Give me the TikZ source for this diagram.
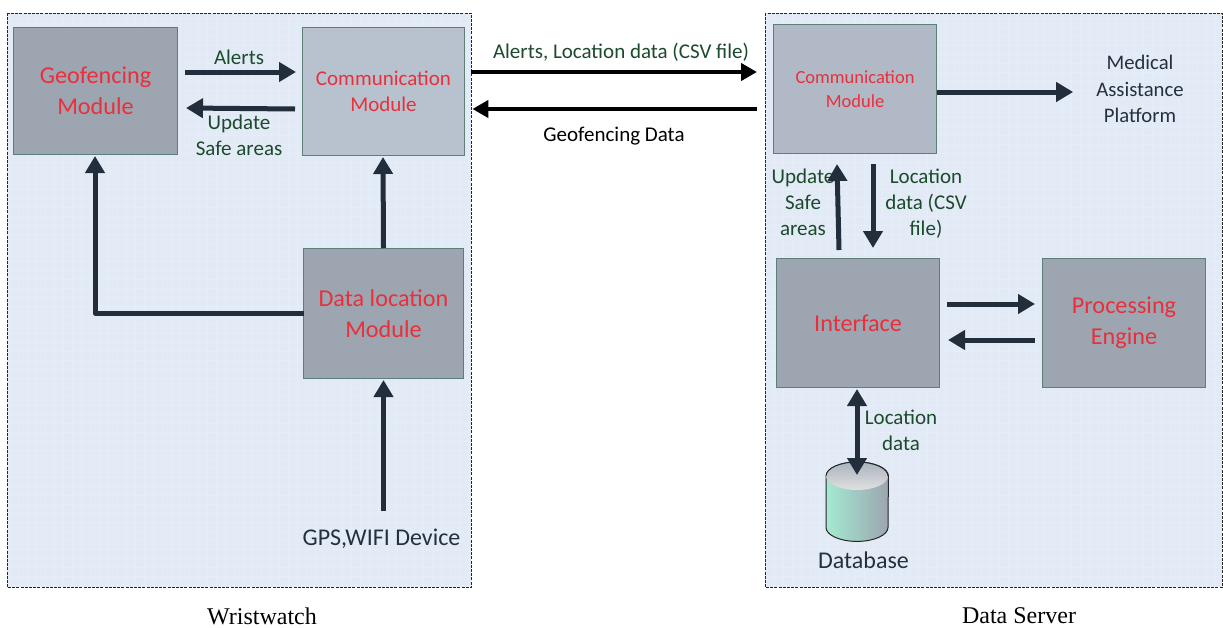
\documentclass[tikz,border=0pt]{standalone}
\usepackage{fontspec}
\setmainfont{Carlito}
\newfontfamily\capfont{Liberation Serif}
\usetikzlibrary{arrows.meta,calc}
\definecolor{panelfill}{HTML}{E2EAF6}
\definecolor{gridc}{HTML}{E7EDF8}
\definecolor{boxd}{HTML}{9CA5B0}
\definecolor{boxl}{HTML}{B8C2CE}
\definecolor{boxedge}{HTML}{5E7E78}
\definecolor{arrowc}{HTML}{232E3C}
\definecolor{redt}{HTML}{E8303C}
\definecolor{greent}{HTML}{1C4A2C}
\definecolor{navyt}{HTML}{25303F}
\definecolor{dbteal}{HTML}{A4EAD2}
\tikzset{
  panel/.style={draw=none,fill=panelfill,minimum width=#1,minimum height=574pt,anchor=north west,inner sep=0pt},
  modbox/.style={draw=boxedge,line width=1pt,fill=boxd,text=redt,align=center,inner sep=0pt,anchor=north west,font=\fontsize{24.2}{31}\selectfont},
  arr/.style={draw=arrowc,line width=5pt,-{Triangle[length=17pt,width=19pt]}},
  bigarr/.style={draw=black,line width=4.5pt,-{Triangle[length=16pt,width=17pt]}},
  lab/.style={text=greent,align=center,inner sep=0pt,font=\fontsize{21}{26}\selectfont},
  navy/.style={text=navyt,align=center,inner sep=0pt,font=\fontsize{24}{27}\selectfont},
  captext/.style={inner sep=0pt,font=\capfont\fontsize{24}{24}\selectfont},
  dashline/.style={draw=black!85,dash pattern=on 3pt off 1.2pt,line width=1pt}
}
\begin{document}
\begin{tikzpicture}[x=1pt,y=-1pt]
\useasboundingbox (0,0) rectangle (1223,627);
\fill[white] (0,0) rectangle (1223,627);
% panels
\node[panel=464pt] (wp) at (7,13) {};
\node[panel=457pt] (sp) at (765,13) {};
\begin{scope}
\clip (8,14) rectangle (470,586) (766,14) rectangle (1221,586);
\draw[gridc,line width=0.5pt,step=9pt] (0,0) grid (1223,627);
\end{scope}
\draw[dashline] (wp.north west) rectangle (wp.south east);
\draw[dashline] (sp.north west) rectangle (sp.south east);
% modules
\node[modbox,minimum width=164pt,minimum height=127pt] (geo) at (13,27) {Geofencing\\Module};
\node[modbox,fill=boxl,minimum width=162pt,minimum height=128pt,font=\fontsize{21}{26}\selectfont] (comm) at (302,27) {Communication\\Module};
\node[modbox,minimum width=160pt,minimum height=130pt] (dataloc) at (303,248) {Data location\\Module};
\node[modbox,fill=boxl!70!boxd,minimum width=163pt,minimum height=129pt,font=\fontsize{18.5}{24}\selectfont] (scomm) at (773,24) {Communication\\Module};
\node[modbox,minimum width=163pt,minimum height=129pt] (iface) at (776,258) {Interface};
\node[modbox,minimum width=163pt,minimum height=129pt] (engine) at (1042,258) {Processing\\Engine};
% database
\node[inner sep=0pt,minimum width=62pt,minimum height=79pt,anchor=north west] (db) at (826,462) {};
\draw[line width=1pt,draw=black!85,left color=dbteal,right color=boxd]
  ($(db.north west)+(0,14)$) -- ($(db.south west)+(0,-14)$)
  arc[start angle=180,end angle=360,x radius=31pt,y radius=14pt]
  -- ($(db.north east)+(0,14)$)
  arc[start angle=0,end angle=180,x radius=31pt,y radius=14pt] -- cycle;
\shade[top color=boxd!85,bottom color=white!88!black]
  ($(db.north west)+(0,14)$) arc[start angle=180,end angle=0,x radius=31pt,y radius=14pt]
  arc[start angle=0,end angle=-180,x radius=31pt,y radius=14pt];
\draw[line width=1pt,draw=black!85]
  ($(db.north west)+(0,14)$) arc[start angle=180,end angle=0,x radius=31pt,y radius=14pt];
% free-end text nodes
\node[navy] (gps) at (381.5,539) {GPS,WIFI Device};
\node[navy,font=\fontsize{20.7}{26.5}\selectfont] (medical) at (1140,89) {Medical\\Assistance\\Platform};
\node[navy] (dbname) at (863.5,560) {Database};
% labels
\node[lab] (lalerts) at (239,57) {Alerts};
\node[lab] (lupdate) at (239,135) {Update\\Safe areas};
\node[lab] (lcsv) at (621,52) {Alerts, Location data (CSV file)};
\node[text=black,inner sep=0pt,font=\fontsize{21}{26}\selectfont] (lgeo) at (614,136) {Geofencing Data};
\node[lab] (lsafe) at (803,202) {Update\\Safe\\areas};
\node[lab] (lloc) at (926,204) {Location\\data (CSV\\file)};
\node[lab] (ldb) at (901,430) {Location\\data};
\node[captext] (wcap) at (262,616) {Wristwatch};
\node[captext] (scap) at (1019,616) {Data Server};
% connectors
\draw[arr] ($(geo.north east)+(7,45)$) -- ($(comm.north west)+(-6,45)$);
\draw[arr] ($(comm.north west)+(-7,82)$) -- ($(geo.north east)+(8,81)$);
\draw[arr,line join=round] ($(dataloc.north west)+(1,65)$) -| ($(geo.south west)+(82,1)$);
\draw[arr] (dataloc.north) -- ($(comm.south west)+(81,1)$);
\draw[arr] ($(dataloc.south)+(0,132)$) -- ($(dataloc.south)+(0,1)$);
\draw[bigarr] ($(wp.north east)+(0,59)$) -- ($(sp.north west)+(-8,59)$);
\draw[bigarr] ($(sp.north west)+(-8,96)$) -- ($(wp.north east)+(1,96)$);
\draw[arr] ($(scomm.north east)+(0,68)$) -- ($(medical.west)+(-23,3)$);
\draw[arr] ($(iface.north west)+(63,-8)$) -- ($(scomm.south west)+(64,10)$);
\draw[arr] ($(scomm.south west)+(100,10)$) -- ($(iface.north west)+(97,-10)$);
\draw[arr] ($(iface.north east)+(7,46)$) -- ($(engine.north west)+(-7,46)$);
\draw[arr] ($(engine.north west)+(-7,82)$) -- ($(iface.north east)+(8,82)$);
\draw[draw=arrowc,line width=5pt,{Triangle[length=17pt,width=19pt]}-{Triangle[length=17pt,width=19pt]}] ($(iface.south west)+(81,1)$) -- ($(db.north west)+(31,13)$);
\end{tikzpicture}
\end{document}
